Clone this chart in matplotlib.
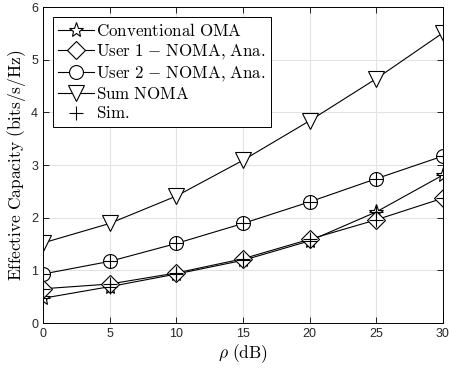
import numpy as np
import matplotlib
matplotlib.use('Agg')
import matplotlib.pyplot as plt

plt.rcParams['mathtext.fontset'] = 'cm'
plt.rcParams['font.family'] = ['Liberation Sans', 'DejaVu Sans']

# SNR axis and curves
rho_db = [0, 5, 10, 15, 20, 25, 30]
oma = [0.47, 0.69, 0.93, 1.19, 1.56, 2.11, 2.81]
user1_noma = [0.65, 0.74, 0.95, 1.22, 1.59, 1.96, 2.37]
user2_noma = [0.93, 1.17, 1.51, 1.89, 2.30, 2.74, 3.17]
sum_noma = [1.52, 1.89, 2.41, 3.09, 3.84, 4.64, 5.51]

labels = [r'$\mathrm{Conventional\ OMA}$',
          r'$\mathrm{User\ 1\ {-}\ NOMA{,}\ Ana.}$',
          r'$\mathrm{User\ 2\ {-}\ NOMA{,}\ Ana.}$',
          r'$\mathrm{Sum\ NOMA}$',
          r'$\mathrm{Sim.}$']

fig = plt.figure(figsize=(4.49, 3.70), dpi=100)
ax = fig.add_axes([43 / 449, 1 - 323 / 370, 400 / 449, 316 / 370])

style = dict(color='k', linewidth=0.8, markerfacecolor='white', markeredgecolor='k',
             markeredgewidth=0.8)
ax.plot(rho_db, oma, marker='*', markersize=11, label=labels[0], **style)
ax.plot(rho_db, user1_noma, marker='D', markersize=9, label=labels[1], **style)
ax.plot(rho_db, user2_noma, marker='o', markersize=10, label=labels[2], **style)
ax.plot(rho_db, sum_noma, marker='v', markersize=11, label=labels[3], **style)

# simulation points
for y in (oma, user1_noma, user2_noma):
    ax.plot(rho_db, y, linestyle='none', marker='+', markersize=10, color='k',
            markeredgewidth=0.8)
ax.plot([], [], linestyle='none', marker='+', markersize=10, color='k',
        markeredgewidth=0.8, label=labels[4])

ax.set_xlim(0, 30)
ax.set_ylim(0, 6)
ax.set_xticks(np.arange(0, 31, 5))
ax.set_yticks(np.arange(0, 7, 1))
ax.tick_params(direction='in', top=True, right=True, labelsize=9, length=4, width=0.6,
               labelcolor='#262626')
ax.grid(True, color='#e3e3e3', linewidth=0.8)
ax.set_axisbelow(True)
for s in ax.spines.values():
    s.set_linewidth(0.7)

ax.set_xlabel(r'$\rho\ \mathrm{(dB)}$', fontsize=12.5, labelpad=2)
ax.set_ylabel(r'$\mathrm{Effective\ Capacity\ (bits/s/Hz)}$', fontsize=12.5, labelpad=2)

leg = ax.legend(loc='upper left', fontsize=12.2, frameon=True, fancybox=False,
                edgecolor='k', handlelength=2.1, handletextpad=0.15, borderpad=0.3,
                labelspacing=0.18, borderaxespad=0.6, framealpha=1)
leg.get_frame().set_linewidth(0.7)

fig.savefig('out.png', dpi=100)
